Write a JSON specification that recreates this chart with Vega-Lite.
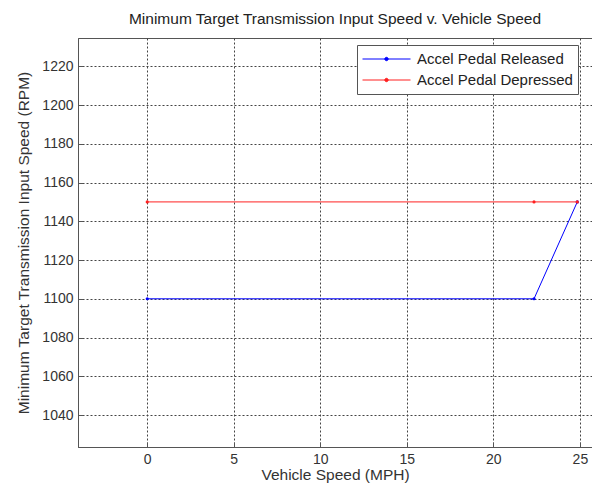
{
  "$schema": "https://vega.github.io/schema/vega-lite/v6.json",
  "autosize": "none",
  "width": 514,
  "height": 409,
  "padding": {"left": 78, "top": 38, "right": 0, "bottom": 42},
  "background": "white",
  "title": {"text": "Minimum Target Transmission Input Speed v. Vehicle Speed", "font": "Liberation Sans", "fontSize": 15.5, "fontWeight": "normal", "color": "#222", "offset": 11},
  "config": {
    "view": {"stroke": "#555", "strokeWidth": 1},
    "axis": {"labelFont": "Liberation Sans", "titleFont": "Liberation Sans", "labelFontSize": 14, "titleFontSize": 15.5, "titleFontWeight": "normal", "labelColor": "#333", "titleColor": "#333", "domainColor": "#555", "tickColor": "#555", "gridColor": "#444", "gridDash": [2, 2], "gridOpacity": 1, "gridWidth": 1}
  },
  "data": {"values": [
    {"speed": 0, "rpm": 1100, "series": "Accel Pedal Released"},
    {"speed": 22.35, "rpm": 1100, "series": "Accel Pedal Released"},
    {"speed": 24.85, "rpm": 1150, "series": "Accel Pedal Released"},
    {"speed": 0, "rpm": 1150, "series": "Accel Pedal Depressed"},
    {"speed": 22.35, "rpm": 1150, "series": "Accel Pedal Depressed"},
    {"speed": 24.85, "rpm": 1150, "series": "Accel Pedal Depressed"}
  ]},
  "mark": {"type": "line", "strokeWidth": 1, "clip": true, "point": {"filled": true, "size": 10}},
  "encoding": {
    "x": {"field": "speed", "type": "quantitative", "scale": {"domain": [-4, 25.7], "nice": false, "zero": false},
      "axis": {"values": [0, 5, 10, 15, 20, 25], "format": "d", "title": "Vehicle Speed (MPH)", "tickSize": -5, "labelPadding": 10, "titlePadding": 1, "labelFlush": false}},
    "y": {"field": "rpm", "type": "quantitative", "scale": {"domain": [1023.5, 1234.6], "nice": false, "zero": false},
      "axis": {"values": [1040, 1060, 1080, 1100, 1120, 1140, 1160, 1180, 1200, 1220], "format": "d", "title": "Minimum Target Transmission Input Speed (RPM)", "tickSize": -5, "labelPadding": 10, "titlePadding": 10, "labelFlush": false}},
    "color": {"field": "series", "type": "nominal", "sort": ["Accel Pedal Released", "Accel Pedal Depressed"],
      "scale": {"domain": ["Accel Pedal Released", "Accel Pedal Depressed"], "range": ["#0000ff", "#ff2020"]},
      "legend": {"title": null, "orient": "none", "legendX": 279, "legendY": 7, "fillColor": "white", "strokeColor": "#555", "padding": 5,
        "labelFont": "Liberation Sans", "labelFontSize": 15, "labelColor": "#222", "labelOffset": 6,
        "symbolType": "M-1,0H1M-0.07,0A0.07,0.07 0 1,1 0.07,0A0.07,0.07 0 1,1 -0.07,0", "symbolSize": 2304, "symbolStrokeWidth": 1, "rowPadding": 3, "clipHeight": 18,
        "encode": {"symbols": {"update": {"fill": {"scale": "color", "field": "value"}}}}}}
  }
}
